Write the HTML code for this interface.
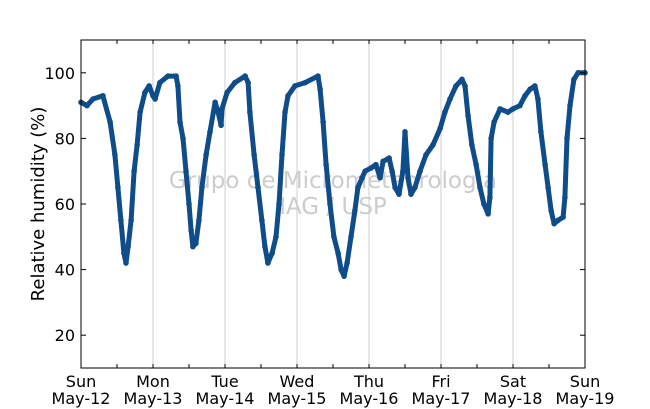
<!DOCTYPE html>
<html><head><meta charset="utf-8"><style>
html,body{margin:0;padding:0;background:#fff;}
svg{display:block;font-family:"DejaVu Sans","Liberation Sans",sans-serif;}
</style></head><body>
<svg id="chart" width="650" height="409" viewBox="0 0 650 409">
<rect x="0" y="0" width="650" height="409" fill="#fff"/>
<g id="grid"></g>
<g fill="#cccccc" font-size="23" text-anchor="middle">
<text x="333" y="188">Grupo de Micrometeorologia</text>
<text x="333" y="214">IAG / USP</text>
</g>
<g id="series"></g>
<rect x="81" y="40" width="504" height="328" fill="none" stroke="#000" stroke-width="1"/>
<g id="ticks"></g>
<text x="44" y="204" font-size="18" text-anchor="middle" transform="rotate(-90 44 204)">Relative humidity (%)</text>
</svg>
<script>
const hours=[0,2,4,7.3,9.7,11.3,12.3,13.3,14.3,15,15.7,16.7,17.7,18.7,19.7,21.3,22.7,24,24.7,26.3,29,31.7,32.3,33,34,35,36,36.7,37.3,38.3,39.3,40.3,41.7,43,44.7,45.7,46.7,47,48.7,51.3,54.7,55.7,56.3,57.7,59,60.3,61.3,62.3,63.7,65,66,67,68,69,71.3,74.7,79,79.7,80.7,81.7,83,84.3,85.7,86.7,87.7,88.7,90,91.3,92.3,93.7,94.7,96.7,98.3,99.7,100.7,102.7,103.7,104.7,106,107.3,108,109,110,111.3,113,115,117.3,119.7,121.3,123,125,127,128,129,130.3,131.7,133,134.3,135.7,136.3,136.7,137.7,139.7,142.3,144,146.3,148,149.7,151.3,152.3,153.3,154.7,155.7,156.7,157.7,159,160.7,161.3,162,163,164.3,165.7,168];
const humidity=[91,90,92,93,85,75,65,55,45,42,47,55,70,78,88,94,96,93,92,97,99,99,96,85,80,70,60,52,47,48,55,65,75,82,91,88,84,89,94,97,99,97,88,75,65,55,47,42,45,50,60,75,88,93,96,97,99,95,85,72,60,50,45,40,38,42,50,58,65,68,70,71,72,68,73,74,70,65,63,70,82,68,63,65,70,75,78,83,88,92,96,98,96,87,78,72,65,60,57,62,80,85,89,88,89,90,93,95,96,92,82,72,65,58,54,55,56,62,80,90,98,100,100];
const yTicks=[20,40,60,80,100];
const dayNames=["Sun","Mon","Tue","Wed","Thu","Fri","Sat","Sun"];
const dayDates=["May-12","May-13","May-14","May-15","May-16","May-17","May-18","May-19"];
const NS="http://www.w3.org/2000/svg";
const X0=81,X1=585,Y0=368,Y1=40,HMAX=168,VMIN=10,VMAX=110;
function xs(h){return X0+(h/HMAX)*(X1-X0);}
function ys(v){return Y0-(v-VMIN)/(VMAX-VMIN)*(Y0-Y1);}
function mk(tag,attrs,parent){const e=document.createElementNS(NS,tag);for(const k in attrs)e.setAttribute(k,attrs[k]);parent.appendChild(e);return e;}
const grid=document.getElementById('grid'),ticks=document.getElementById('ticks'),series=document.getElementById('series');
for(let d=1;d<dayNames.length-1;d++){
  const g=mk('line',{x1:xs(d*24),x2:xs(d*24),y1:Y1,y2:Y0,stroke:'#cccccc','stroke-width':1},grid);
  
  
}
for(let i=0;i<dayNames.length;i++){
  const x=xs(i*24);
  const t1=mk('text',{x:x,y:387,'font-size':16,'text-anchor':'middle'},ticks);t1.textContent=dayNames[i];
  
  
  const t2=mk('text',{x:x,y:404,'font-size':16,'text-anchor':'middle'},ticks);t2.textContent=dayDates[i];
  
  
}
for(let h=12;h<HMAX;h+=12){
  const x=xs(h);
  const a=mk('line',{x1:x,x2:x,y1:Y0,y2:Y0-4,stroke:'#000'},ticks);
  
  
  const b=mk('line',{x1:x,x2:x,y1:Y1,y2:Y1+4,stroke:'#000'},ticks);
  
  
}
yTicks.forEach(v=>{
  const y=ys(v);
  const a=mk('line',{x1:X0,x2:X0+5,y1:y,y2:y,stroke:'#000'},ticks);
  
  
  const b=mk('line',{x1:X1,x2:X1-5,y1:y,y2:y,stroke:'#000'},ticks);
  
  
  const t=mk('text',{x:X0-6,y:y+6,'font-size':16,'text-anchor':'end'},ticks);t.textContent=v;
  
  
});
const pts=hours.map((h,i)=>xs(h).toFixed(1)+','+ys(humidity[i]).toFixed(1)).join(' ');
const pl=mk('polyline',{points:pts,fill:'none',stroke:'#0f4c8a','stroke-width':5,'stroke-linejoin':'round','stroke-linecap':'round'},series);


hours.forEach((h,i)=>{
  const c=mk('circle',{cx:xs(h),cy:ys(humidity[i]),r:2.8,fill:'#0f4c8a'},series);
  
  
});
</script>
</body></html>
